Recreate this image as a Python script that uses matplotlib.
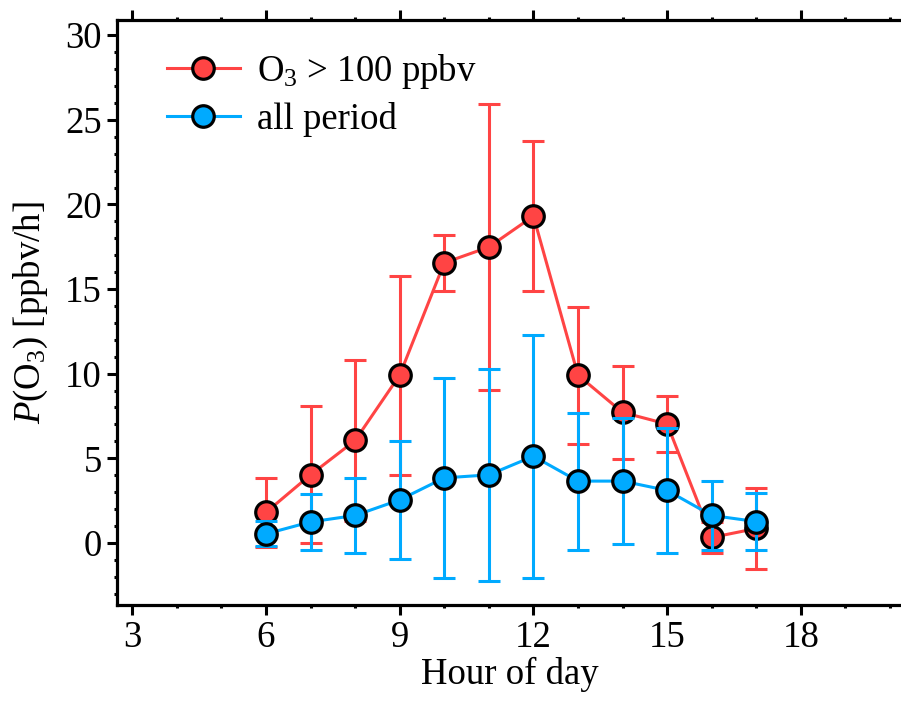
import numpy as np
import matplotlib
matplotlib.use("Agg")
import matplotlib.pyplot as plt
from matplotlib.ticker import MultipleLocator

plt.rcParams["font.family"] = ["Liberation Serif", "DejaVu Serif"]
plt.rcParams["mathtext.fontset"] = "custom"
plt.rcParams["mathtext.rm"] = "Liberation Serif"
plt.rcParams["mathtext.it"] = "Liberation Serif:italic"

# данные
hours = [6, 7, 8, 9, 10, 11, 12, 13, 14, 15, 16, 17]
high_mean = [1.80, 4.02, 6.05, 9.91, 16.55, 17.48, 19.31, 9.91, 7.71, 7.02, 0.32, 0.85]
high_err = [2.04, 4.05, 4.78, 5.88, 1.65, 8.47, 4.43, 4.04, 2.77, 1.67, 0.92, 2.40]
all_mean = [0.53, 1.24, 1.62, 2.54, 3.84, 4.02, 5.12, 3.65, 3.65, 3.10, 1.62, 1.26]
all_err = [0.74, 1.66, 2.21, 3.50, 5.90, 6.25, 7.19, 4.05, 3.70, 3.68, 2.03, 1.66]

labels = [r"O$_3$ > 100 ppbv", "all period"]
red = "#FF4444"
blue = "#00AAFF"

fs = 26.5
fig = plt.figure(figsize=(9.01, 7.03), dpi=100)
ax = fig.add_axes([0.1299, 0.1387, 0.8728, 0.8329])

for mean, err, col, lab in [(high_mean, high_err, red, labels[0]),
                            (all_mean, all_err, blue, labels[1])]:
    ax.errorbar(hours, mean, yerr=err, fmt="none", ecolor=col,
                elinewidth=2.2, capsize=7.8, capthick=2.2)
    ax.plot(hours, mean, "-o", color=col, lw=2.2, ms=15.5,
            mfc=col, mec="black", mew=2.3, label=lab)

ax.set_xlim(2.66, 20.3)
ax.set_ylim(-3.7, 30.9)
ax.xaxis.set_major_locator(MultipleLocator(3))
ax.xaxis.set_minor_locator(MultipleLocator(1))
ax.yaxis.set_major_locator(MultipleLocator(5))
ax.yaxis.set_minor_locator(MultipleLocator(1))

for s in ["left", "bottom", "top"]:
    ax.spines[s].set_linewidth(2.3)
ax.spines["right"].set_visible(False)

ax.tick_params(which="major", direction="out", length=7, width=2.2,
               labelsize=fs, pad=4, top=True, right=False)
ax.tick_params(which="minor", direction="out", length=2.5, width=2.2,
               top=True, right=False)

ax.set_xlabel("Hour of day", fontsize=fs, labelpad=1)
ax.set_ylabel(r"$P$(O$_3$) [ppbv/h]", fontsize=fs, labelpad=11)

ax.legend(loc="upper left", bbox_to_anchor=(0.063, 0.945), frameon=False,
          fontsize=fs, numpoints=1, handlelength=2.0, handletextpad=0.45,
          labelspacing=0.3, borderaxespad=0, borderpad=0)

fig.savefig("out.png", dpi=100)
